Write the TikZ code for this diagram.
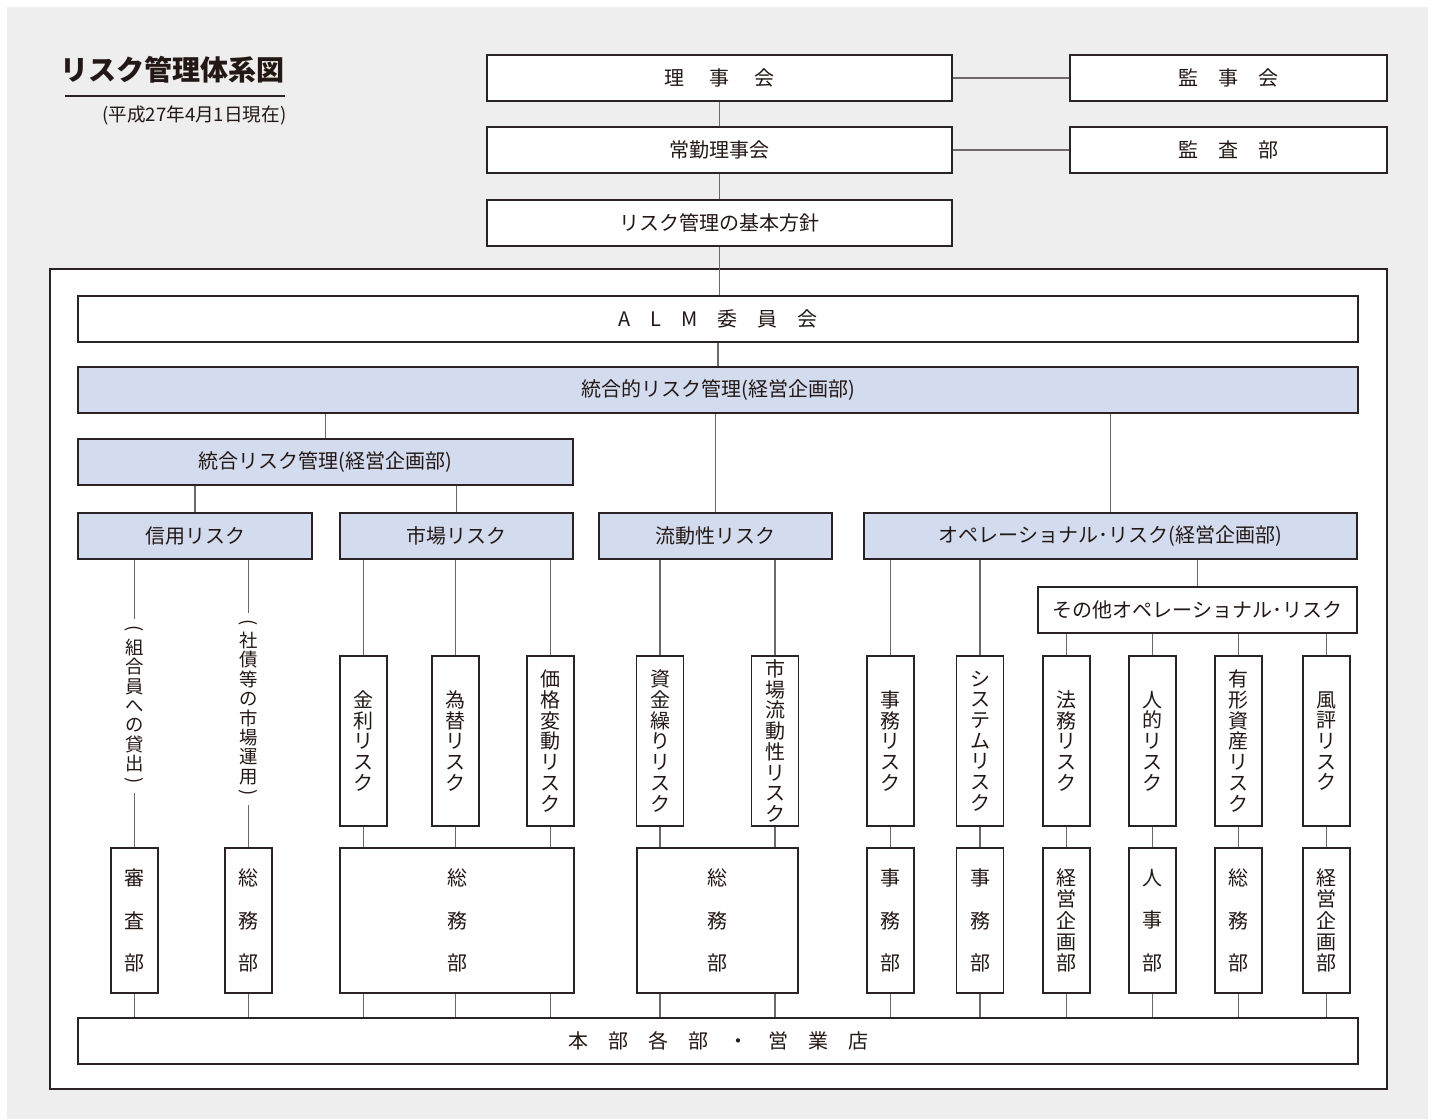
\documentclass[tikz,border=0pt]{standalone}
\usepackage{fontspec}
\setmainfont{Noto Sans CJK JP}
\definecolor{bggrey}{HTML}{EDEEED}
\definecolor{riskblue}{HTML}{D3DCEE}
\definecolor{boxline}{HTML}{2B2323}
\definecolor{linkgrey}{HTML}{6E6868}
\definecolor{textcol}{HTML}{231815}
\newcommand{\vopen}{\rotatebox[origin=c]{-90}{(}}
\newcommand{\vclose}{\rotatebox[origin=c]{-90}{)}}
\begin{document}
\begin{tikzpicture}[
		x=0.5pt, y=-0.5pt,
		every node/.style={draw=boxline, line width=0.6pt, fill=white, text=textcol,
			inner sep=0pt, font=\fontsize{10}{12}\selectfont},
		hbox/.style={minimum width=#1*0.5pt, minimum height=23pt},
		riskfill/.style={fill=riskblue},
		vbox/.style={minimum width=23.5pt, minimum height=85pt, align=center,
			font=\fontsize{10}{10.35}\selectfont},
		deptbox/.style={minimum width=#1*0.5pt, minimum height=72.5pt, align=center,
			font=\fontsize{10}{10.6}\selectfont},
		sparse/.style={font=\fontsize{10}{21.2}\selectfont},
		plain/.style={draw=none, fill=none},
		vlabel/.style={plain, align=center, inner sep=3pt, font=\fontsize{9.2}{9.7}\selectfont},
		link/.style={draw=linkgrey, line width=0.6pt}
	]
	\useasboundingbox (0,0) rectangle (1434,1119);
	\fill[bggrey] (7,7) rectangle (1428,1119);

	% title
	\node[plain, anchor=west, font=\fontsize{14}{16}\selectfont\bfseries] (title) at (60,70) {リスク管理体系図};
	\node[plain, anchor=east, font=\fontsize{9.3}{11}\selectfont] (asof) at (287,115) {(平成27年4月1日現在)};
	\draw[boxline, line width=0.8pt] (65,96) -- (285,96);

	% top of the organisation
	\node[hbox=465] (rijikai) at (719.5,78) {理\hspace{1.25em}事\hspace{1.25em}会};
	\node[hbox=317] (kanjikai) at (1228.5,78) {監　事　会};
	\node[hbox=465] (jokin) at (719.5,150) {常勤理事会};
	\node[hbox=317] (kansabu) at (1228.5,150) {監　査　部};
	\node[hbox=465, line width=0.9pt] (hoshin) at (719.5,223) {リスク管理の基本方針};

	\draw[boxline, line width=1pt, fill=white] (50,269) rectangle (1387,1089);

	\node[hbox=1280] (alm) at (718,319) {A　L　M　委　員　会};
	\node[hbox=1280, riskfill] (togoteki) at (718,390) {統合的リスク管理(経営企画部)};
	\node[hbox=495, riskfill] (togo) at (325.5,462) {統合リスク管理(経営企画部)};
	\node[hbox=234, riskfill] (shinyo) at (195,536) {信用リスク};
	\node[hbox=233, riskfill] (shijo) at (456.5,536) {市場リスク};
	\node[hbox=233, riskfill] (ryudo) at (715.5,536) {流動性リスク};
	\node[hbox=493, riskfill] (opr) at (1110.5,536) {オペレーショナル･リスク(経営企画部)};
	\node[hbox=319] (sonota) at (1197.5,610) {その他オペレーショナル･リスク};

	% risks
	\node[vlabel] (kashidashi) at (134.5,706) {\vopen\\組\\合\\員\\へ\\の\\貸\\出\\[-2pt]\vclose};
	\node[vlabel] (unyo) at (248.5,709) {\vopen\\社\\債\\等\\の\\市\\場\\運\\用\\[-2pt]\vclose};
	\node[vbox] (kinri) at (363.5,741) {金\\利\\リ\\ス\\ク};
	\node[vbox] (kawase) at (455.5,741) {為\\替\\リ\\ス\\ク};
	\node[vbox] (kakaku) at (550.5,741) {価\\格\\変\\動\\リ\\ス\\ク};
	\node[vbox] (shikin) at (660,741) {資\\金\\繰\\り\\リ\\ス\\ク};
	\node[vbox] (shijoryudo) at (775,741) {市\\場\\流\\動\\性\\リ\\ス\\ク};
	\node[vbox] (jimu) at (890.5,741) {事\\務\\リ\\ス\\ク};
	\node[vbox] (system) at (980,741) {シ\\ス\\テ\\ム\\リ\\ス\\ク};
	\node[vbox] (homu) at (1066.5,741) {法\\務\\リ\\ス\\ク};
	\node[vbox] (jinteki) at (1152.5,741) {人\\的\\リ\\ス\\ク};
	\node[vbox] (yukei) at (1238.5,741) {有\\形\\資\\産\\リ\\ス\\ク};
	\node[vbox] (fuhyo) at (1326.5,741) {風\\評\\リ\\ス\\ク};

	% departments
	\node[deptbox=47, sparse] (shinsa) at (134.5,920.5) {審\\査\\部};
	\node[deptbox=47, sparse] (somu1) at (248.5,920.5) {総\\務\\部};
	\node[deptbox=234, sparse] (somu2) at (457,920.5) {総\\務\\部};
	\node[deptbox=161, sparse] (somu3) at (717.5,920.5) {総\\務\\部};
	\node[deptbox=47, sparse] (jimubu1) at (890.5,920.5) {事\\務\\部};
	\node[deptbox=47, sparse] (jimubu2) at (980,920.5) {事\\務\\部};
	\node[deptbox=47] (keiei1) at (1066.5,920.5) {経\\営\\企\\画\\部};
	\node[deptbox=47, sparse] (jinji) at (1152.5,920.5) {人\\事\\部};
	\node[deptbox=47, sparse] (somu4) at (1238.5,920.5) {総\\務\\部};
	\node[deptbox=47] (keiei2) at (1326.5,920.5) {経\\営\\企\\画\\部};

	\node[hbox=1280] (honbu) at (718,1041) {本　部　各　部　・　営　業　店};

	% connectors
	\draw[link] (rijikai.east) -- (kanjikai.west);
	\draw[link] (jokin.east) -- (kansabu.west);
	\draw[link] (rijikai.south) -- (jokin.north);
	\draw[link] (jokin.south) -- (hoshin.north);
	\draw[link] (hoshin.south) -- (hoshin.south |- alm.north);
	\draw[link] (alm.south) -- (togoteki.north);
	\foreach \kid in {togo, ryudo, opr}
		\draw[link] (\kid.north) -- (\kid.north |- togoteki.south);
	\foreach \kid in {shinyo, shijo}
		\draw[link] (\kid.north) -- (\kid.north |- togo.south);
	\foreach \kid in {kinri, kawase, kakaku}
		\draw[link] (\kid.north) -- (\kid.north |- shijo.south);
	\foreach \kid in {shikin, shijoryudo}
		\draw[link] (\kid.north) -- (\kid.north |- ryudo.south);
	\foreach \kid in {jimu, system, sonota}
		\draw[link] (\kid.north) -- (\kid.north |- opr.south);
	\foreach \kid in {homu, jinteki, yukei, fuhyo}
		\draw[link] (\kid.north) -- (\kid.north |- sonota.south);
	\draw[link] (kashidashi.north |- shinyo.south) -- (kashidashi.north);
	\draw[link] (kashidashi.south) -- (shinsa.north);
	\draw[link] (unyo.north |- shinyo.south) -- (unyo.north);
	\draw[link] (unyo.south) -- (somu1.north);
	\foreach \rsk/\dpt in {kinri/somu2, kawase/somu2, kakaku/somu2, shikin/somu3, shijoryudo/somu3,
			jimu/jimubu1, system/jimubu2, homu/keiei1, jinteki/jinji, yukei/somu4, fuhyo/keiei2}
		\draw[link] (\rsk.south) -- (\rsk.south |- \dpt.north);
	\foreach \colx in {shinsa, somu1, kinri, kawase, kakaku, shikin, shijoryudo,
			jimu, system, homu, jinteki, yukei, fuhyo}
		\draw[link] (\colx.south |- shinsa.south) -- (\colx.south |- honbu.north);
\end{tikzpicture}
\end{document}
